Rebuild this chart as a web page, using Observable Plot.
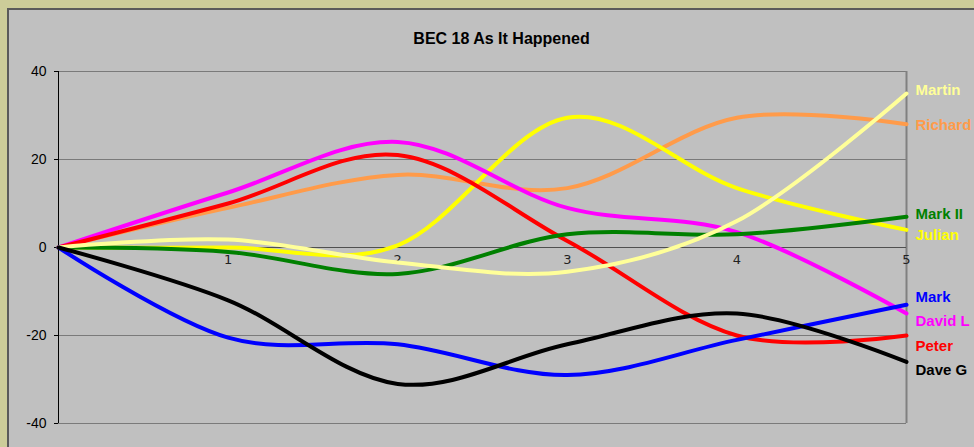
<!DOCTYPE html>
<html><head><meta charset="utf-8">
<script src="https://cdn.jsdelivr.net/npm/d3@7"></script>
<script src="https://cdn.jsdelivr.net/npm/@observablehq/plot@0.6"></script>
<style>
html,body{margin:0;padding:0;width:974px;height:447px;overflow:hidden;background:#CCCC99;}
#panel{position:absolute;left:7px;top:8px;width:967px;height:439px;background:#C0C0C0;border-top:2px solid #5a5a5a;border-left:2px solid #5a5a5a;box-sizing:border-box;}
#title{position:absolute;left:0;top:30px;width:1003px;text-align:center;font:bold 16px "Liberation Sans",Arial,sans-serif;color:#000;}
#chart{position:absolute;left:0;top:0;}
</style></head><body>
<div id="panel"></div>
<div id="title">BEC 18 As It Happened</div>
<div id="chart"></div>
<script>
// Data
const rounds = [0, 1, 2, 3, 4, 5];
const xTickLabels = ["1", "2", "3", "4", "5"];
const yTicks = [-40, -20, 0, 20, 40];
const players = ["Richard", "Julian", "David L", "Peter", "Mark II", "Martin", "Mark", "Dave G"];
const richard = [0, 9, 16.5, 13.5, 29.5, 28];
const julian  = [0, 0, 0.5, 29.5, 13.5, 4];
const davidL  = [0, 12.5, 24, 9, 3.5, -15];
const peter   = [0, 10, 21, 1.5, -20, -20];
const markII  = [0, -1, -6, 3, 3, 7];
const martin  = [0, 1.8, -3.4, -5.5, 6, 35];
const mark    = [0, -20.5, -22, -29, -21, -13];
const daveG   = [0, -12, -31, -22, -15, -26];

const seriesValues = [richard, julian, davidL, peter, markII, martin, mark, daveG];

// styles
const colors = {
  "Martin": "#FFFF99", "Richard": "#FF9B4A", "Mark II": "#008000", "Julian": "#FFFF00",
  "Mark": "#0000FF", "David L": "#FF00FF", "Peter": "#FF0000", "Dave G": "#000000"
};
const labelDy = {
  "Martin": -3, "Richard": 1, "Mark II": -3, "Julian": 5,
  "Mark": -8, "David L": 8, "Peter": 11, "Dave G": 8
};

const rows = [];
players.forEach((p, i) => rounds.forEach((r, j) => rows.push({player: p, round: r, value: seriesValues[i][j]})));
const last = players.map((p, i) => ({player: p, round: rounds[rounds.length - 1], value: seriesValues[i][rounds.length - 1]}));

const font = '"Liberation Sans", Arial, sans-serif';

const chart = Plot.plot({
  width: 974,
  height: 447,
  marginLeft: 58,
  marginRight: 68,
  marginTop: 71,
  marginBottom: 24,
  style: {background: "transparent", fontFamily: font, fontSize: "14px", color: "#000"},
  x: {domain: [0, 5], axis: null},
  y: {domain: [-40, 40], axis: null},
  marks: [
    Plot.ruleY([-20, 20, 40, -40], {stroke: "#7a7a7a", strokeWidth: 1.2}),
    Plot.ruleX([5], {stroke: "#808080", strokeWidth: 2}),
    Plot.ruleY([0], {stroke: "#505050", strokeWidth: 1.2}),
    Plot.ruleX([0], {stroke: "#000", strokeWidth: 1}),
    Plot.axisY({ticks: yTicks, tickSize: 4, tickPadding: 8, stroke: "#000", fontSize: 14, label: null, tickFormat: d => String(d)}),
    Plot.text(xTickLabels, {x: d => +d, y: 0, text: d => d, dy: 12, fontFamily: "DejaVu Sans", fontSize: 13, fill: "#222"}),
    Plot.line(rows, {x: "round", y: "value", z: "player", stroke: d => colors[d.player], strokeWidth: 4, curve: "cardinal"}),
    ...last.map(d => Plot.text([d], {x: "round", y: "value", text: "player", dx: 9, dy: labelDy[d.player], textAnchor: "start", fill: colors[d.player], fontWeight: "bold", fontSize: 15, fontFamily: font}))
  ]
});
document.getElementById("chart").appendChild(chart);
</script>
</body></html>
